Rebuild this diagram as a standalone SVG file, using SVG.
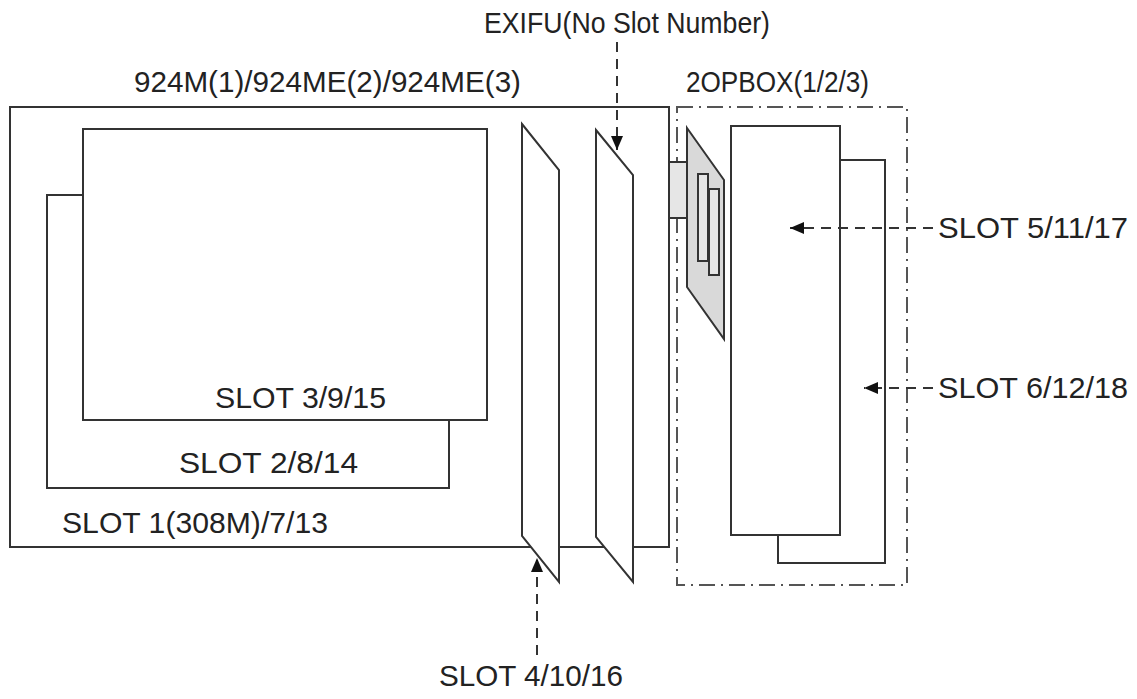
<svg xmlns="http://www.w3.org/2000/svg" width="1137" height="699" viewBox="0 0 1137 699">
<defs>
<style>
.ln{fill:#fff;stroke:#333;stroke-width:2}
.g{fill:#d9d9d9;stroke:#333;stroke-width:2}
.g2{fill:#e6e6e6;stroke:#333;stroke-width:2}
.dd{fill:none;stroke:#555;stroke-width:2;stroke-dasharray:16 6 2 6}
.da{fill:none;stroke:#333;stroke-width:2;stroke-dasharray:10 7}
text{font-family:"Liberation Sans",Arial,sans-serif;font-size:30px;fill:#222}
</style>
<marker id="ah" viewBox="0 0 14 12" refX="14" refY="6" markerWidth="14" markerHeight="12" markerUnits="userSpaceOnUse" orient="auto">
<path d="M0,0 L14,6 L0,12 Z" fill="#111"/>
</marker>
</defs>
<rect width="1137" height="699" fill="#fff"/>
<g id="chassis">
<rect class="ln" x="10" y="107" width="659" height="440"/>
</g>
<g id="slot2">
<rect class="ln" x="47" y="195" width="402" height="293"/>
</g>
<g id="slot3">
<rect class="ln" x="83" y="129" width="404" height="291"/>
</g>
<g id="slot4card">
<polygon class="ln" points="522,124 559,170 559,582 522,536"/>
</g>
<g id="exifu">
<polygon class="ln" points="596,130 633,175 633,582 596,537"/>
</g>
<g id="opbox">
<rect class="dd" x="677" y="107" width="230" height="478"/>
</g>
<g id="connector-block">
<rect class="g2" x="669" y="162" width="18" height="56"/>
<polygon class="g" points="687,128 724,180 724,339 687,287"/>
<rect class="g2" x="698" y="174" width="10" height="87"/>
<rect class="g2" x="709" y="189" width="10" height="86"/>
</g>
<g id="slot6">
<rect class="ln" x="778" y="160" width="107" height="403"/>
</g>
<g id="slot5">
<rect class="ln" x="731" y="126" width="109" height="409"/>
</g>
<g id="connectors">
<line class="da" x1="617" y1="42" x2="617" y2="150" marker-end="url(#ah)"/>
<line class="da" x1="537" y1="655" x2="537" y2="558" marker-end="url(#ah)"/>
<line class="da" x1="933" y1="228" x2="790" y2="228" marker-end="url(#ah)"/>
<line class="da" x1="933" y1="388" x2="864" y2="388" marker-end="url(#ah)"/>
</g>
<g id="labels">
<text x="484" y="33" textLength="286" lengthAdjust="spacingAndGlyphs">EXIFU(No Slot Number)</text>
<text x="134" y="92" textLength="387" lengthAdjust="spacingAndGlyphs">924M(1)/924ME(2)/924ME(3)</text>
<text x="686" y="92" textLength="183" lengthAdjust="spacingAndGlyphs">2OPBOX(1/2/3)</text>
<text x="215" y="408" textLength="171" lengthAdjust="spacingAndGlyphs">SLOT 3/9/15</text>
<text x="179" y="473" textLength="179" lengthAdjust="spacingAndGlyphs">SLOT 2/8/14</text>
<text x="62" y="533" textLength="266" lengthAdjust="spacingAndGlyphs">SLOT 1(308M)/7/13</text>
<text x="439" y="686" textLength="184" lengthAdjust="spacingAndGlyphs">SLOT 4/10/16</text>
<text x="938" y="238" textLength="190" lengthAdjust="spacingAndGlyphs">SLOT 5/11/17</text>
<text x="938" y="398" textLength="190" lengthAdjust="spacingAndGlyphs">SLOT 6/12/18</text>
</g>
</svg>
